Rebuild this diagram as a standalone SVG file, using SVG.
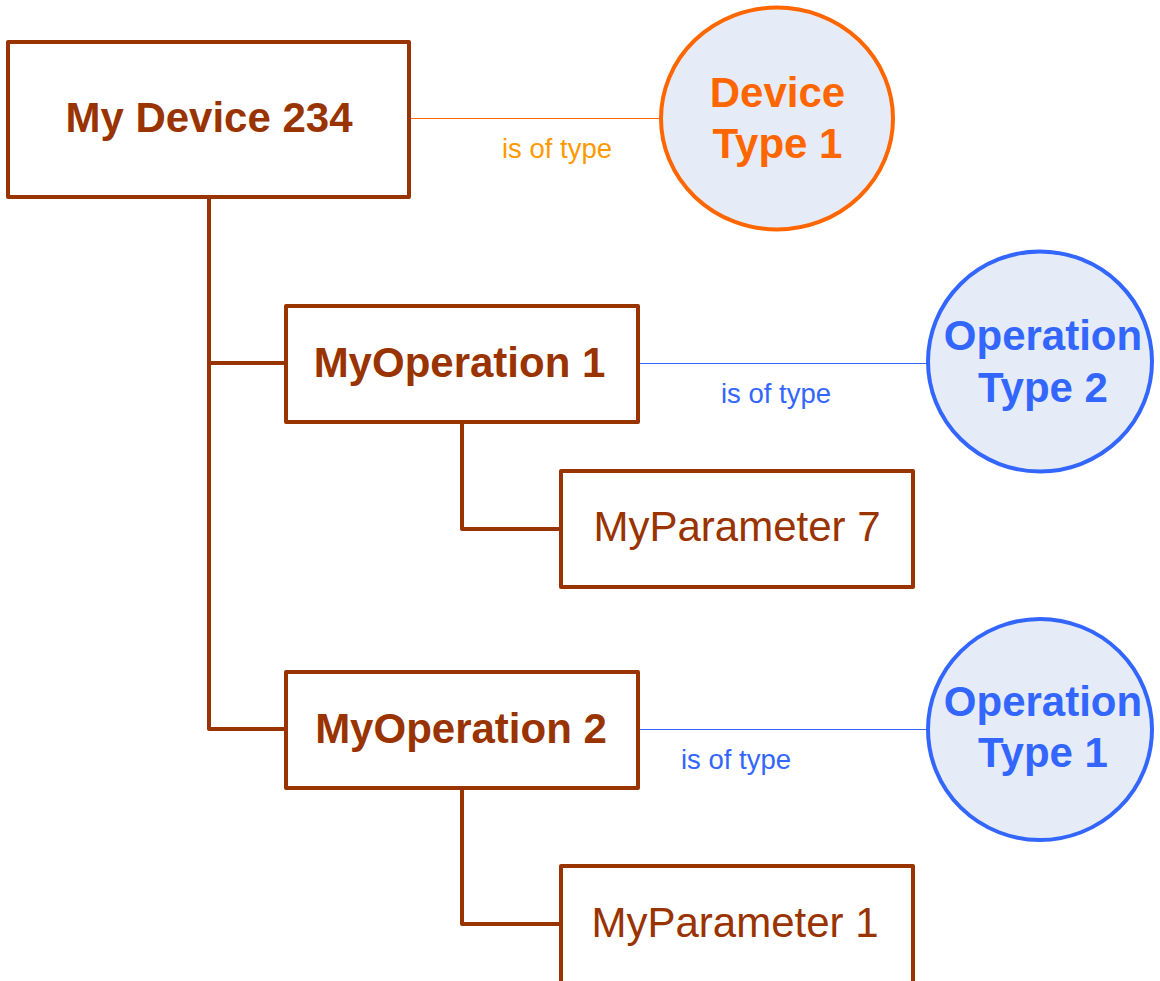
<svg xmlns="http://www.w3.org/2000/svg" width="1160" height="981" viewBox="0 0 1160 981">
<style>
.box{fill:#fff;stroke:#993300;stroke-width:4;stroke-linejoin:round}
.tree{fill:none;stroke:#993300;stroke-width:4;stroke-linejoin:round}
.bold{font-family:"Liberation Sans",Arial,sans-serif;font-weight:bold;font-size:42px;text-anchor:middle}
.reg{font-family:"Liberation Sans",Arial,sans-serif;font-size:42px;text-anchor:middle;fill:#993300}
.lbl{font-family:"Liberation Sans",Arial,sans-serif;font-size:27.5px;text-anchor:middle}
.brown{fill:#993300}
.otype{fill:#e6ecf7;stroke:#ff6600;stroke-width:4}
.btype{fill:#e6ecf7;stroke:#3366ff;stroke-width:4}
</style>
<g id="connectors">
<path class="tree" d="M209 197 V729 H286 M209 363 H286"/>
<path class="tree" d="M462 422 V529 H561"/>
<path class="tree" d="M462 788 V924 H561"/>
<line x1="410" y1="118.5" x2="661" y2="118.5" stroke="#ff6600" stroke-width="1.2"/>
<text class="lbl" x="557" y="158" fill="#ff9900">is of type</text>
<line x1="638" y1="363.5" x2="928" y2="363.5" stroke="#3366ff" stroke-width="1.2"/>
<text class="lbl" x="776" y="402.5" fill="#3366ff">is of type</text>
<line x1="638" y1="729.5" x2="928" y2="729.5" stroke="#3366ff" stroke-width="1.2"/>
<text class="lbl" x="736" y="768.5" fill="#3366ff">is of type</text>
</g>
<g id="device234">
<rect class="box" x="8" y="42" width="401" height="155"/>
<text class="bold brown" x="209" y="131.5">My Device 234</text>
</g>
<g id="deviceType1">
<ellipse class="otype" cx="777" cy="118.5" rx="116" ry="111"/>
<text class="bold" fill="#ff6600" x="777.5" y="107">Device</text>
<text class="bold" fill="#ff6600" x="777.5" y="158">Type 1</text>
</g>
<g id="myOperation1">
<rect class="box" x="286" y="306" width="352" height="116"/>
<text class="bold brown" x="459.5" y="376.5">MyOperation 1</text>
</g>
<g id="operationType2">
<ellipse class="btype" cx="1040" cy="361.5" rx="112" ry="110"/>
<text class="bold" fill="#3366ff" x="1043" y="350">Operation</text>
<text class="bold" fill="#3366ff" x="1043" y="401.5">Type 2</text>
</g>
<g id="myParameter7">
<rect class="box" x="561" y="471" width="352" height="116"/>
<text class="reg" x="737" y="541">MyParameter 7</text>
</g>
<g id="myOperation2">
<rect class="box" x="286" y="672" width="352" height="116"/>
<text class="bold brown" x="461" y="742.5">MyOperation 2</text>
</g>
<g id="operationType1">
<ellipse class="btype" cx="1040" cy="729.5" rx="112" ry="110.5"/>
<text class="bold" fill="#3366ff" x="1043" y="716">Operation</text>
<text class="bold" fill="#3366ff" x="1043" y="767">Type 1</text>
</g>
<g id="myParameter1">
<rect class="box" x="561" y="866" width="352" height="125"/>
<text class="reg" x="735" y="937">MyParameter 1</text>
</g>
</svg>
